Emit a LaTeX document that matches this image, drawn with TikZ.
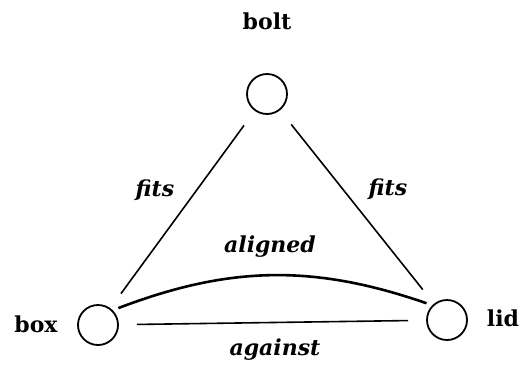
\documentclass[tikz,border=0pt]{standalone}
\usepackage{fontspec}
\setmainfont{DejaVu Serif}
\usepackage{tikz}
\usetikzlibrary{positioning}

\begin{document}
\begin{tikzpicture}[
  x=1pt, y=-1pt,
  font=\fontsize{22}{26}\selectfont\bfseries,
  part/.style={draw, circle, line width=1.8pt, minimum size=40pt, inner sep=0pt},
  tag/.style={inner sep=1pt},
  elab/.style={inner sep=1pt, font=\fontsize{22}{26}\selectfont\bfseries\itshape},
  rel/.style={line width=1.6pt, shorten >=18pt, shorten <=18pt},
  bent/.style={line width=2.6pt, shorten >=6pt, shorten <=6pt},
]
\useasboundingbox (0,0) rectangle (522,373);
\node[part] (bolt) at (267, 94)  {};
\node[part] (box)  at ( 98,325)  {};
\node[part] (lid)  at (447,320)  {};
\node[tag] (boltname) at (267, 21) {bolt};
\node[tag] (boxname)  at ( 36,324) {box};
\node[tag] (lidname)  at (503,318) {lid};
\node[elab] (fitsl)   at (155,190) {fits};
\node[elab] (fitsr)   at (388,189) {fits};
\node[elab] (aligned) at (270,247) {aligned};
\node[elab] (against) at (275,350) {against};
\draw[rel]  (bolt) -- (box);
\draw[rel]  (bolt) -- (lid);
\draw[bent] (box.45) to[bend left=20] (lid.135);
\draw[rel]  (box) -- (lid);
\end{tikzpicture}
\end{document}
